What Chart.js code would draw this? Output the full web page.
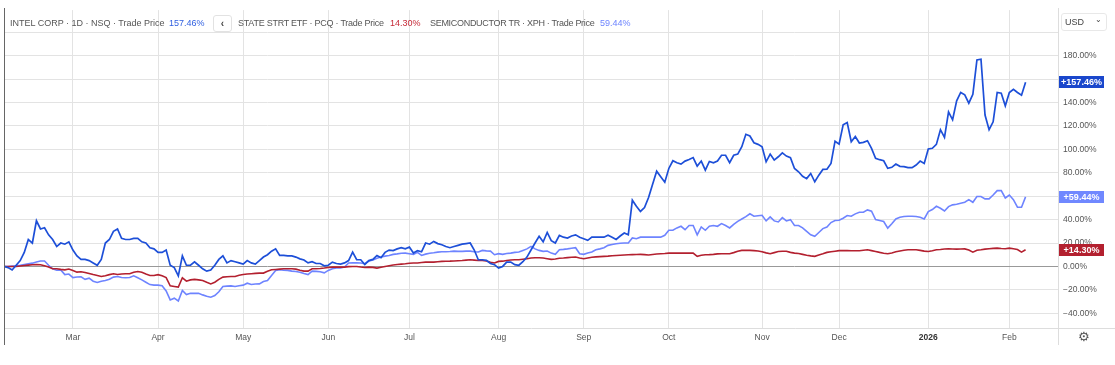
<!DOCTYPE html>
<html>
<head>
<meta charset="utf-8">
<script src="https://cdn.jsdelivr.net/npm/chart.js@4.4.1/dist/chart.umd.min.js"></script>
<style>
  html, body { margin:0; padding:0; background:#fff; }
  #wrap { position:relative; width:1115px; height:365px; overflow:hidden; font-family:"Liberation Sans", Arial, sans-serif; }
  canvas { position:absolute; left:0; top:0; }
  .lg { position:absolute; top:17px; font-size:9px; color:#555; white-space:nowrap; line-height:12px; }
  .ln { position:absolute; }
</style>
</head>
<body>
<div id="wrap">
  <canvas id="c" width="1115" height="365"></canvas>
  <div class="lg" style="left:10px">INTEL CORP · 1D · NSQ · Trade Price</div>
  <div class="lg" style="left:169px;color:#2f5fe0">157.46%</div>
  <div style="position:absolute;left:213px;top:15px;width:17px;height:15px;border:1px solid #e2e2e2;border-radius:3px;background:#fff;font-size:10px;font-weight:bold;color:#444;text-align:center;line-height:15px;">‹</div>
  <div class="lg" style="left:238px;letter-spacing:-0.25px">STATE STRT ETF · PCQ · Trade Price</div>
  <div class="lg" style="left:390px;color:#c62a38">14.30%</div>
  <div class="lg" style="left:430px;letter-spacing:-0.3px">SEMICONDUCTOR TR · XPH · Trade Price</div>
  <div class="lg" style="left:600px;color:#6d84ff">59.44%</div>
  <div style="position:absolute;left:1061px;top:13px;width:44px;height:16px;border:1px solid #e8e8e8;border-radius:3px;background:#fff;font-size:9px;color:#444;line-height:16px;">
    <span style="position:absolute;left:3px;">USD</span><span style="position:absolute;right:4px;top:-2px;font-size:8px;">&#x2304;</span>
  </div>
  <div class="ln" style="left:4px;top:8px;width:1px;height:337px;background:#666;"></div>
  <div class="ln" style="left:1058px;top:8px;width:1px;height:337px;background:#ddd;"></div>
  <div class="ln" style="left:1058px;top:328px;width:57px;height:1px;background:#ddd;"></div>
  <div style="position:absolute;left:1078px;top:329px;font-family:'DejaVu Sans';font-size:13px;color:#555;">&#x2699;</div>
</div>
<script>
// Trading-day index positions of month starts and their labels
const monthTickIdx = [17, 38, 59, 80, 100, 122, 143, 164, 187, 206, 228, 248];
const monthLabels  = ['Mar','Apr','May','Jun','Jul','Aug','Sep','Oct','Nov','Dec','2026','Feb'];
const yTicks = [-40, -20, 0, 20, 40, 60, 80, 100, 120, 140, 160, 180, 200];
const yLabelTicks = [-40, -20, 0, 20, 40, 60, 80, 100, 120, 140, 160, 180];

// % change series (one value per trading day)
const intel = [
 0, -1, -3, 1, 5, 12, 23, 20, 39, 32,
 33, 27, 23, 17, 20, 19, 21, 14, 9, 6,
 6, 5, 3, 1, 6, 20, 23, 30, 32, 24,
 23, 23, 24, 24, 21, 20, 16, 15, 12, 12,
 14, 1, -1, -8, 9, 1, 1, 4, 1, -2,
 -4, -3, 1, 6, 9, 3, 5, 4, 3, 2,
 5, 3, 2, 5, 8, 10, 13, 15, 9.4, 9.4,
 9, 9, 8, 6.5, 5.5, 3, 4, 2.5, 2.5, 0.5,
 1, 3.7, 2.5, 2, 3, 5, 12.3, 5.7, 5.7, 1.7,
 5, 6, 9.4, 7.5, 12, 14, 13.5, 15, 16, 15,
 16.6, 11.4, 13.5, 12.5, 20, 19, 21.4, 19.5, 18.5, 17,
 16, 17, 18, 19, 19.5, 20, 14, 5.7, 5.7, 5.2,
 2.5, 1.5, -1.4, 0, 3.7, 3.7, 1.5, 1, 4, 8,
 14, 20, 25.7, 21, 29, 22, 20, 26.5, 25, 24.3,
 26, 27, 25, 23.7, 22.3, 25, 25, 25, 25, 26.6,
 25, 23, 26, 28.6, 27, 56.6, 51.4, 47, 50.3, 58.9,
 70.3, 81.4, 76.6, 72, 83.7, 90.3, 88.6, 87.4, 90, 91.4,
 93, 85.7, 90, 82.3, 89.7, 88.6, 90, 95, 95, 88.6,
 95, 96, 102.3, 112.9, 111.4, 105.7, 104.3, 102.3, 89.4, 96,
 90.9, 93.7, 97, 94.3, 93, 83.7, 80.9, 77, 75, 79.4,
 72.3, 78, 82.9, 83, 88, 107, 104.5, 121, 123, 106.5,
 111, 105.4, 106, 107.4, 100.9, 92.3, 91.2, 90.3, 83.8, 84.7,
 87.5, 85.5, 85.2, 84.4, 84.4, 86.6, 90, 88, 100.3, 100.9,
 104.3, 116.8, 110.2, 132, 125.3, 141.5, 148.6, 146.6, 139.5, 147,
 176.4, 177, 129.3, 116.8, 123.6, 148.6, 148, 137.2, 148.6, 151.4,
 148.6, 146.3, 157.46
];
const xph = [
 0, 0, 0.3, 0.6, 1, 1.6, 2.2, 2.8, 3.8, 4.6,
 4.6, 1, -2, -3.2, -3, -7, -6.5, -9.5, -9, -8.8,
 -11, -10, -12.6, -13.7, -12.6, -12, -10.9, -9.1, -8.6, -9.5,
 -9.7, -9.5, -8, -9.7, -11.5, -13.5, -15.5, -16, -16, -16.5,
 -21, -28.6, -27.1, -29.5, -20.6, -24, -23, -22.9, -23, -24.3,
 -25.5, -26.3, -24.9, -21.7, -17.1, -16.8, -16.6, -17.1, -16.5, -16,
 -14.3, -15.4, -15, -14.9, -12.9, -12, -7.7, -3.4, -2.9, -3.2,
 -3.4, -4, -4.3, -4.9, -6, -6.9, -4, -4.2, -4.5, -5.5,
 -3.4, -2, -1.4, -1.4, -0.6, 2.9, 3.1, 3, 2.9, 2.3,
 4.6, 5.5, 7, 8, 8.8, 9.4, 10.3, 10.7, 11.2, 11.4,
 10.9, 10.3, 12, 9.4, 10.5, 11.3, 11.7, 12.2, 12.6, 12.6,
 12.8, 13.1, 12.9, 12.9, 13.1, 13.1, 12.6, 12.3, 13.7, 13.3,
 13.1, 10, 10.9, 10.3, 11, 11.4, 12, 12.3, 13.7, 15,
 17.1, 15, 13.7, 12.9, 13.2, 11.4, 10.3, 14.3, 14.6, 15,
 15.5, 16, 10.9, 10.3, 11.5, 12.3, 14.3, 15, 16, 18,
 18.7, 19.4, 19.8, 20, 20, 24.3, 23.7, 25, 25, 25,
 25, 25, 25, 26.6, 30.9, 30.9, 32.9, 34.3, 31.4, 35,
 35, 27, 33.7, 30.9, 34.3, 35, 34.3, 36.6, 35, 32.9,
 36, 38.5, 40.5, 42.5, 45, 42.9, 43.3, 43.7, 38.9, 42.3,
 38.9, 38, 41.7, 38.9, 40, 35, 35, 33, 30, 27,
 25.7, 29, 32.3, 33.7, 37.5, 39.2, 39.5, 41.2, 43.5, 42.9,
 44.9, 46.3, 46.3, 48.3, 47.2, 40, 39.2, 38.4, 32.7, 36.4,
 40.6, 42, 42.6, 42.9, 42.9, 42.6, 42, 40.6, 46.9, 48.6,
 51.4, 49.7, 47.4, 51.1, 52.6, 53.1, 54, 54.8, 57.1, 54.8,
 59.7, 59.7, 57.7, 57.7, 61, 64.8, 64.8, 58.5, 61, 57.1,
 50.6, 50.6, 59.44
];
const pcq = [
 0, 0, 0, 0, 0.4, 0.8, 1.1, 1.4, 1.7, 1.5,
 0.6, -0.5, -2, -2, -2.5, -2.9, -2.2, -3.4, -4.9, -4.6,
 -5.2, -6, -6.9, -7.7, -8.6, -7.9, -7, -6.3, -6.9, -6.5,
 -6.3, -6.3, -5, -4.3, -5, -6.5, -7.7, -7.7, -7, -8,
 -9.5, -16.6, -17.1, -17.7, -9.7, -12.6, -11.5, -11.1, -11.5, -12,
 -13.5, -14.9, -13.5, -11, -9.1, -8.8, -8.6, -8.6, -7.5, -6.9,
 -6.5, -6.2, -5.9, -5.7, -5.7, -4.2, -2.9, -2.6, -2.3, -2,
 -2, -2, -2.3, -3.2, -4, -4, -2, -2, -1.8, -1.4,
 -0.9, -0.6, -0.6, -0.6, -0.6, -0.2, 0, 0, -0.5, -0.9,
 -0.6, -0.8, -1.4, -0.7, 0, 0.6, 1.2, 1.7, 2, 2.3,
 2.7, 2.9, 2.9, 3.3, 3.7, 3.7, 3.7, 4, 4.3, 4.4,
 4.5, 4.7, 4.9, 5.1, 5.4, 5.7, 5.4, 5.1, 5.1, 4.6,
 3.5, 2.9, 4.3, 4.5, 5.1, 5.5, 5.7, 5.7, 6.2, 6.6,
 7.2, 7.4, 7.4, 7.2, 6.6, 6, 6.4, 7, 7.2, 7.5,
 7.8, 8, 7.2, 6.6, 7.2, 7.8, 8.2, 8.4, 8.6, 8.8,
 9.1, 9.4, 9.6, 9.8, 10, 10.1, 10.2, 10.3, 10.1, 9.8,
 10.2, 10.6, 10.9, 11.1, 11.4, 11.4, 11.4, 11.4, 11.4, 11.4,
 11.4, 8.6, 9.5, 10, 10.1, 10.3, 10.7, 10.9, 10.9, 10.9,
 11.8, 13, 13.7, 13.7, 13.7, 13.5, 13.2, 12.5, 11.6, 10.9,
 11.8, 12.7, 13, 13, 12, 11.4, 11, 10.3, 9.6, 9,
 8.6, 9.8, 10.8, 12, 12.5, 13, 13.5, 13.5, 13.5, 13.4,
 13.4, 13.4, 13.8, 14.2, 13.5, 12.8, 12, 11.3, 10.8, 11.5,
 12.5, 13.2, 13.8, 14.2, 14.2, 14.2, 13.7, 13.1, 12.8, 13.4,
 14.2, 14.5, 14.9, 15, 14.9, 14.8, 14.9, 15, 14, 12.2,
 13.9, 14.3, 14.8, 15.1, 15.4, 15.6, 15.3, 15.1, 15.6, 15.1,
 14.5, 12.2, 14.3
];

const C_INTEL = '#1d4fd8', C_XPH = '#6e84ff', C_PCQ = '#b3202f';
const TAG_INTEL = '#1a47cc', TAG_XPH = '#7088ff', TAG_PCQ = '#b3202f';

const toPts = arr => arr.map((v, i) => ({ x: i, y: v }));
const fmtPct = v => (v < 0 ? '\u2212' + Math.abs(v).toFixed(2) : v.toFixed(2)) + '%';

const tagPlugin = {
  id: 'tags',
  afterDraw(chart) {
    const { ctx } = chart;
    const y = chart.scales.y;
    ctx.save();
    chart.data.datasets.forEach(ds => {
      const last = ds.data[ds.data.length - 1].y;
      const py = Math.round(y.getPixelForValue(last));
      ctx.fillStyle = ds.tagColor;
      ctx.fillRect(y.left + 1, py - 6, 45, 12);
      ctx.fillStyle = '#fff';
      ctx.font = 'bold 9px "Liberation Sans", Arial, sans-serif';
      ctx.textBaseline = 'middle';
      ctx.textAlign = 'center';
      ctx.fillText('+' + last.toFixed(2) + '%', y.left + 23.5, py + 0.5);
    });
    ctx.restore();
  }
};

Chart.defaults.font.family = '"Liberation Sans", Arial, sans-serif';
Chart.defaults.font.size = 8.5;
Chart.defaults.color = '#555';

new Chart(document.getElementById('c'), {
  type: 'line',
  data: {
    datasets: [
      { label: 'INTEL', data: toPts(intel), borderColor: C_INTEL, tagColor: TAG_INTEL, borderWidth: 1.7, pointRadius: 0, tension: 0 },
      { label: 'PCQ', data: toPts(pcq), borderColor: C_PCQ, tagColor: TAG_PCQ, borderWidth: 1.6, pointRadius: 0, tension: 0 },
      { label: 'XPH', data: toPts(xph), borderColor: C_XPH, tagColor: TAG_XPH, borderWidth: 1.6, pointRadius: 0, tension: 0 }
    ]
  },
  options: {
    responsive: false,
    animation: false,
    devicePixelRatio: 1,
    layout: { padding: { left: 4, top: 8, right: 0, bottom: 0 } },
    plugins: { legend: { display: false }, tooltip: { enabled: false } },
    scales: {
      x: {
        type: 'linear', min: 0, max: 260,
        grid: { color: '#e3e3e3', drawTicks: false },
        border: { display: true, color: '#dddddd' },
        afterBuildTicks: s => { s.ticks = monthTickIdx.map(v => ({ value: v })); },
        ticks: {
          padding: 5, autoSkip: false, maxRotation: 0,
          callback: v => { const k = monthTickIdx.indexOf(v); return k >= 0 ? monthLabels[k] : ''; },
          font: c => (c.tick && c.tick.label === '2026') ? { weight: 'bold', size: 8.5 } : { size: 8.5 },
          color: c => (c.tick && c.tick.label === '2026') ? '#333' : '#555'
        },
        afterFit: s => { s.height = 37; }
      },
      y: {
        position: 'right', min: -52.6, max: 219,
        grid: { color: c => (c.tick && c.tick.value === 0) ? '#999999' : '#e3e3e3', drawTicks: false },
        border: { display: true, color: '#dddddd' },
        afterBuildTicks: s => { s.ticks = yTicks.map(v => ({ value: v })); },
        ticks: {
          padding: 5,
          callback: v => yLabelTicks.includes(v) ? fmtPct(v) : ''
        },
        afterFit: s => { s.width = 57; }
      }
    }
  },
  plugins: [tagPlugin]
});
</script>
</body>
</html>
